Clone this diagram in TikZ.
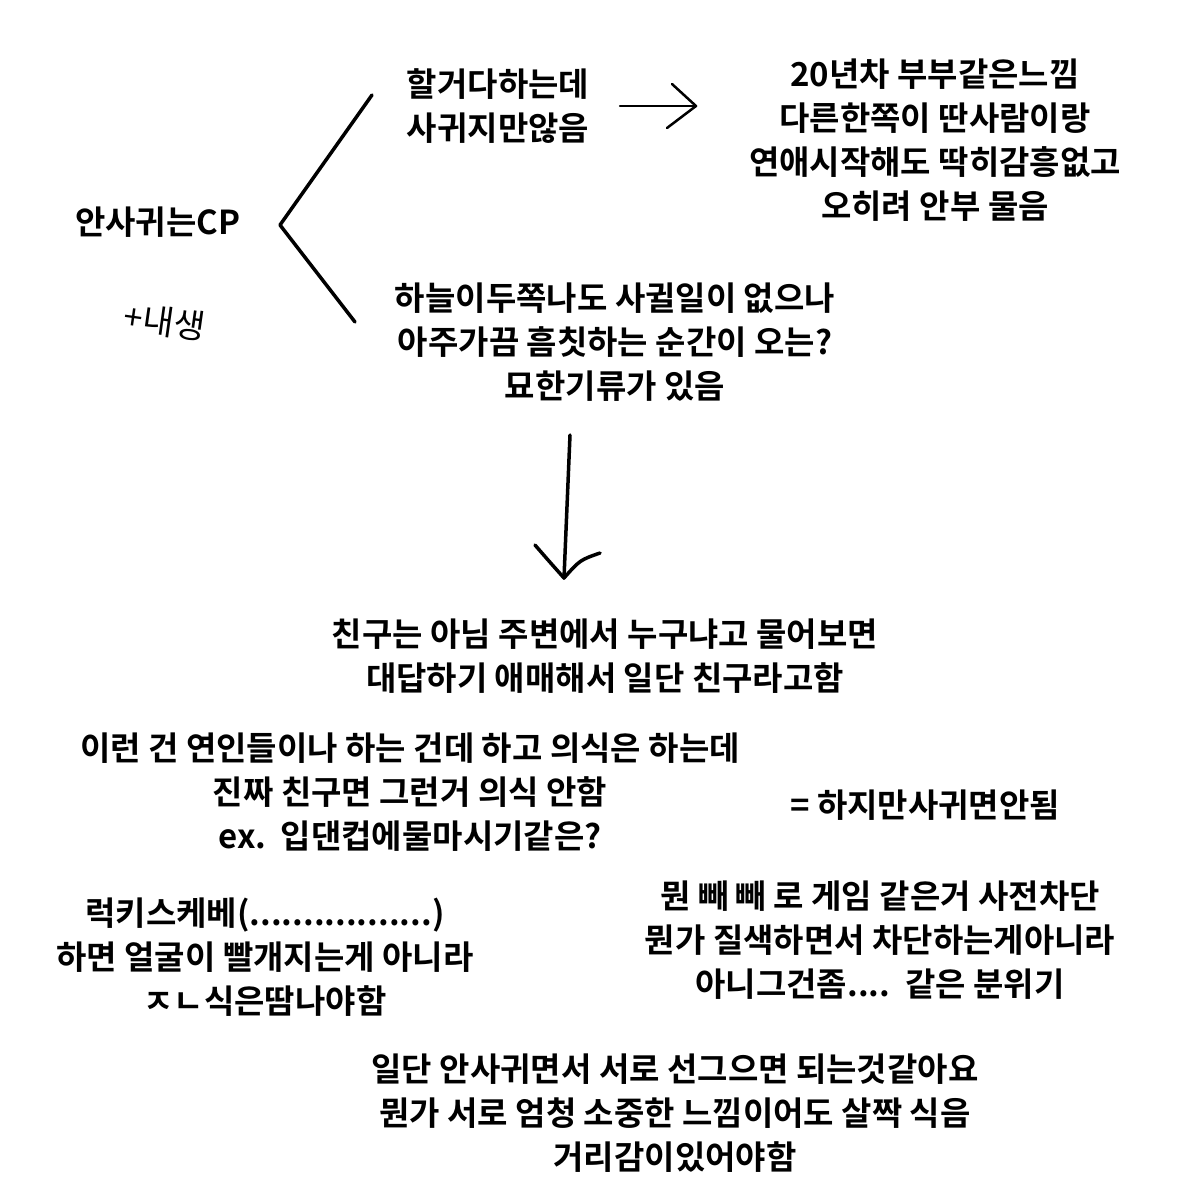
\documentclass[tikz,border=0pt]{standalone}
\usepackage{fontspec}
\newfontfamily\kr{Noto Sans CJK KR Bold}
\newfontfamily\krl{Noto Sans CJK KR}
\begin{document}
\begin{tikzpicture}[x=1pt,y=-1pt,
  txt/.style={font=\kr\fontsize{33}{44}\selectfont,align=center,inner sep=0pt},
  pen/.style={line width=3.5pt,line cap=round,line join=round}]
\useasboundingbox[fill=white] (0,0) rectangle (1200,1200);
\node[txt,anchor=west] (cp) at (75,222) {안사귀는CP};
\coordinate (c1) at (372,95);\coordinate (c2) at (280,225);\coordinate (c3) at (355,322);
\draw[pen] (c1) -- (c2) -- (c3);
\node[txt] (a) at (498,106) {할거다하는데\\사귀지만않음};
\coordinate (r1) at (620,106);\coordinate (r2) at (696,106);
\draw[pen,line width=2.5pt] (r1) -- (r2);
\draw[pen,line width=2.5pt] (672,84) -- (r2) -- (667,128);
\node[txt] (b) at (935,140) {20년차 부부같은느낌\\다른한쪽이 딴사람이랑\\연애시작해도 딱히감흥없고\\오히려 안부 물음};
\node[font=\krl\fontsize{34}{34}\selectfont,rotate=-8,inner sep=0pt] (h) at (165,322) {+내생};
\node[txt] (c) at (615,342) {하늘이두쪽나도 사귈일이 없으나\\아주가끔 흠칫하는 순간이 오는?\\묘한기류가 있음};
\coordinate (d1) at (570,435);\coordinate (d2) at (564,578);
\draw[pen] (d1) -- (d2);
\draw[pen] (535,545) .. controls (548,560) .. (d2) .. controls (580,560) .. (600,553);
\node[txt] (e) at (605,656) {친구는 아님 주변에서 누구냐고 물어보면\\대답하기 애매해서 일단 친구라고함};
\node[txt] (f) at (410,792) {이런 건 연인들이나 하는 건데 하고 의식은 하는데\\진짜 친구면 그런거 의식 안함\\ex.\ \ 입댄컵에물마시기같은?};
\node[txt] (g) at (925,805) {= 하지만사귀면안됨};
\node[txt] (i) at (265,957) {럭키스케베(.................)\\하면 얼굴이 빨개지는게 아니라\\ㅈㄴ식은땀나야함};
\node[txt] (j) at (880,940) {뭔 빼 빼 로 게임 같은거 사전차단\\뭔가 질색하면서 차단하는게아니라\\아니그건좀....\ \ 같은 분위기};
\node[txt] (k) at (675,1113) {일단 안사귀면서 서로 선그으면 되는것같아요\\뭔가 서로 엄청 소중한 느낌이어도 살짝 식음\\거리감이있어야함};
\end{tikzpicture}
\end{document}
